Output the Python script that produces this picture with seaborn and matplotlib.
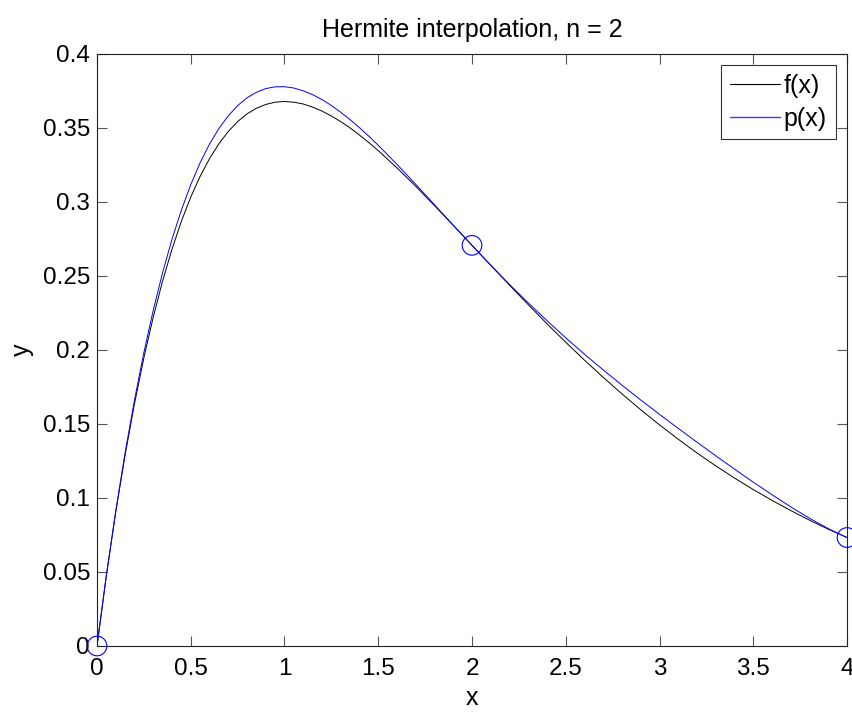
# Hermite interpolation, n = 2: f(x) against the interpolant p(x)

import pandas as pd
import matplotlib.pyplot as plt
from matplotlib.lines import Line2D
import seaborn as sns

x = [0.0, 0.05, 0.1, 0.15, 0.2, 0.25, 0.3, 0.35, 0.4, 0.45, 0.5, 0.55, 0.6, 0.65, 0.7, 0.75,
     0.8, 0.85, 0.9, 0.95, 1.0, 1.05, 1.1, 1.15, 1.2, 1.25, 1.3, 1.35, 1.4, 1.45, 1.5,
     1.6, 1.7, 1.8, 1.9, 2.0,
     2.1, 2.2, 2.3, 2.4, 2.5, 2.6, 2.7, 2.8, 2.9, 3.0,
     3.1, 3.2, 3.3, 3.4, 3.5, 3.6, 3.7, 3.8, 3.9, 4.0]
f_vals = [0.0, 0.0476, 0.0905, 0.1291, 0.1637, 0.1947, 0.2222, 0.2466, 0.2681, 0.2869, 0.3033,
          0.3173, 0.3293, 0.3393, 0.3476, 0.3543, 0.3595, 0.3633, 0.3659, 0.3674, 0.3679,
          0.3674, 0.3662, 0.3641, 0.3614, 0.3581, 0.3543, 0.3500, 0.3452, 0.3401, 0.3347,
          0.3230, 0.3106, 0.2975, 0.2842, 0.2707,
          0.2572, 0.2438, 0.2306, 0.2177, 0.2052, 0.1931, 0.1815, 0.1703, 0.1596, 0.1494,
          0.1397, 0.1304, 0.1217, 0.1135, 0.1057, 0.0984, 0.0915, 0.0850, 0.0789, 0.0733]
p_vals = [0.0, 0.0478, 0.0912, 0.1306, 0.1662, 0.1982, 0.2268, 0.2523, 0.2748, 0.2945, 0.3117,
          0.3265, 0.3391, 0.3496, 0.3582, 0.3651, 0.3704, 0.3741, 0.3766, 0.3778, 0.3779,
          0.3770, 0.3751, 0.3725, 0.3692, 0.3652, 0.3606, 0.3556, 0.3502, 0.3444, 0.3383,
          0.3254, 0.3119, 0.2981, 0.2843, 0.2707,
          0.2573, 0.2443, 0.2318, 0.2198, 0.2082, 0.1971, 0.1865, 0.1762, 0.1662, 0.1565,
          0.1470, 0.1377, 0.1285, 0.1195, 0.1107, 0.1022, 0.0940, 0.0863, 0.0793, 0.0732]
nodes_x = [0.0, 2.0, 4.0]
nodes_y = [0.0, 0.2707, 0.0733]

curve_names = ["f(x)", "p(x)"]
curve_colors = {"f(x)": "black", "p(x)": "blue"}

sns.set_style("white")
plt.rcParams['font.family'] = ['Liberation Sans', 'DejaVu Sans']
plt.rcParams['xtick.direction'] = 'in'
plt.rcParams['ytick.direction'] = 'in'
plt.rcParams['text.color'] = 'black'
plt.rcParams['axes.labelcolor'] = 'black'

df = pd.DataFrame({"x": x, "f(x)": f_vals, "p(x)": p_vals})
long = df.melt(id_vars="x", var_name="curve", value_name="y")

fig = plt.figure(figsize=(8.53, 7.12), dpi=100)
ax = fig.add_axes([0.1137, 0.0927, 0.8793, 0.8315])
sns.lineplot(data=long, x="x", y="y", hue="curve", palette=curve_colors,
             linewidth=0.7, ax=ax, legend=False)
sns.scatterplot(x=nodes_x, y=nodes_y, marker="o", s=200, facecolor="none", edgecolor="blue",
                linewidth=0.8, ax=ax, legend=False, clip_on=False, zorder=5)

ax.set_xlim(0, 4)
ax.set_ylim(0, 0.4)
ax.set_xticks([0, 0.5, 1, 1.5, 2, 2.5, 3, 3.5, 4])
ax.set_xticklabels(["0", "0.5", "1", "1.5", "2", "2.5", "3", "3.5", "4"])
ax.set_yticks([0, 0.05, 0.1, 0.15, 0.2, 0.25, 0.3, 0.35, 0.4])
ax.set_yticklabels(["0", "0.05", "0.1", "0.15", "0.2", "0.25", "0.3", "0.35", "0.4"])
ax.tick_params(labelsize=17.5, length=7, width=0.8, color="#555555", labelcolor="black",
               top=True, right=True, bottom=True, left=True)
ax.tick_params(axis="x", pad=9)
ax.tick_params(axis="y", pad=5)
for s in ax.spines.values():
    s.set_color("#222222")
    s.set_linewidth(0.8)
ax.set_xlabel("x", fontsize=18, labelpad=4)
ax.set_ylabel("y", fontsize=18, labelpad=6)
ax.set_title("Hermite interpolation, n = 2", fontsize=18, pad=12)

handles = [Line2D([0, 1], [0, 0], color="black", linewidth=0.8),
           Line2D([0, 1], [0, 0], color="#3c3cff", linewidth=1.0)]
leg = ax.legend(handles=handles, labels=curve_names, loc="upper right", fontsize=18,
                frameon=True, fancybox=False, handlelength=2.0, borderaxespad=0.45,
                borderpad=0.35, labelspacing=0.35, handletextpad=0.15)
leg.get_frame().set_edgecolor("#333333")
leg.get_frame().set_linewidth(0.8)
leg.get_frame().set_alpha(1)

fig.savefig("out.png", dpi=100)
